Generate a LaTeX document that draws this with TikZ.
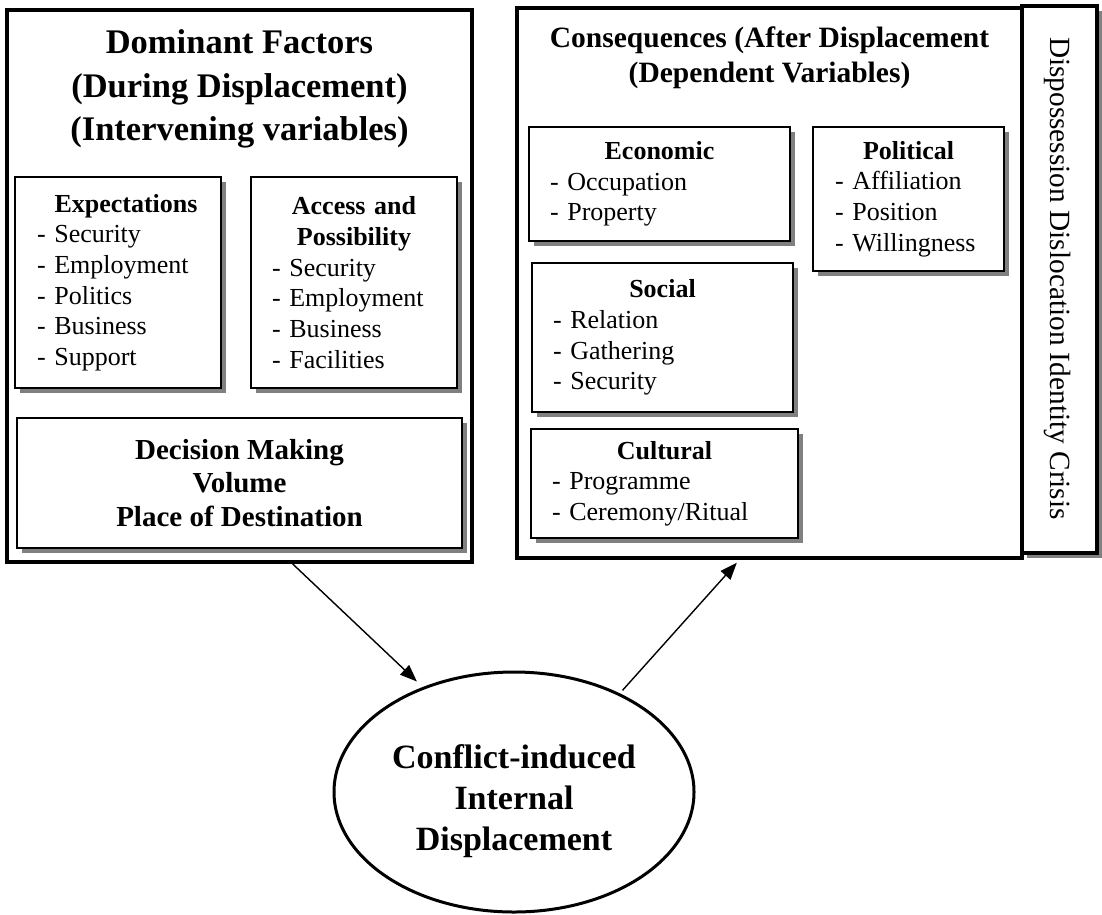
\documentclass[tikz,border=0pt]{standalone}
\usepackage{fontspec}
\setmainfont{Liberation Serif}
\usetikzlibrary{arrows.meta,positioning,shapes.geometric,shadows}

\begin{document}
\begin{tikzpicture}[x=1pt,y=-1pt,
        frame/.style={draw, line width=3.5pt, fill=white, inner sep=0pt},
        shade/.style={drop shadow={shadow xshift=5pt, shadow yshift=-5pt,
                      fill=black!50, opacity=1}},
        card/.style={draw, line width=2pt, fill=white, inner sep=0pt, shade,
                     align=left, font=\fontsize{26}{30.7}\selectfont},
        title/.style={align=center, inner sep=0pt},
        arrow/.style={-{Triangle[length=17pt,width=13pt]}, line width=1.4pt}
    ]
        \useasboundingbox (0,0) rectangle (1102,914);

        \node[frame, minimum width=465, minimum height=552] (factors) at (239.5,286) {};
        \node[frame, minimum width=505, minimum height=550] (consq) at (769.5,283) {};
        \node[frame, shade, minimum width=75, minimum height=547] (dispbox) at (1059.5,279.5) {};

        \node[title, font=\fontsize{34.5}{43.5}\selectfont\bfseries] (ftitle) at (239.5,89)
            {Dominant Factors\\(During Displacement)\\(Intervening variables)};
        \node[title, font=\fontsize{29.5}{35}\selectfont\bfseries] (ctitle) at (769.5,58)
            {Consequences (After Displacement\\(Dependent Variables)};
        \node[rotate=-90, inner sep=0pt, font=\fontsize{29.3}{35}\selectfont] (disptext)
            at (1057,278.5) {Dispossession Dislocation Identity Crisis};

        \node[card, minimum width=206, minimum height=211, text width=162] (expect) at (118,282.5)
            {{\centering\hspace*{16pt}\bfseries Expectations\par}- Security\\- Employment\\- Politics\\- Business\\- Support};
        \node[card, minimum width=206, minimum height=211, text width=164] (access) at (354,282.5)
            {{\centering\bfseries Access and\\Possibility\par}- Security\\- Employment\\- Business\\- Facilities};
        \node[card, align=center, minimum width=445, minimum height=130,
              font=\fontsize{29}{33.5}\selectfont\bfseries] (decide) at (239.5,483)
            {Decision Making\\Volume\\Place of Destination};

        \node[card, minimum width=261, minimum height=114, text width=219] (econ) at (659.5,184)
            {{\centering\bfseries Economic\par}- Occupation\\- Property};
        \node[card, minimum width=191, minimum height=144, text width=147] (polit) at (908.5,199)
            {{\centering\bfseries Political\par}- Affiliation\\- Position\\- Willingness};
        \node[card, minimum width=261, minimum height=149, text width=219] (social) at (662.5,337.5)
            {{\centering\bfseries Social\par}- Relation\\- Gathering\\- Security};
        \node[card, minimum width=267, minimum height=109, text width=225] (cultur) at (664.5,483.5)
            {{\centering\bfseries Cultural\par}- Programme\\- Ceremony/Ritual};

        \node[draw, ellipse, line width=3pt, minimum width=360, minimum height=240] (idp) at (514,792) {};
        \node[title, font=\fontsize{34}{41}\selectfont\bfseries] (idptext) at (514,801)
            {Conflict-induced\\Internal\\Displacement};

        \draw[arrow, shorten >=8pt] ([xshift=53pt]factors.south) -- (idp.131);
        \draw[arrow, shorten <=4pt, shorten >=4pt] (idp.43) -- ([xshift=-30pt]consq.south);
\end{tikzpicture}
\end{document}
